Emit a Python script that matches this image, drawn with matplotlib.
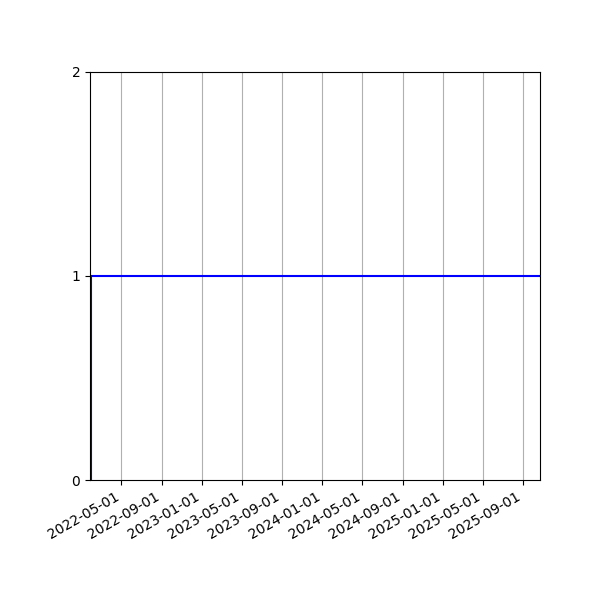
import matplotlib
matplotlib.use("Agg")
import matplotlib.pyplot as plt
import matplotlib.dates as mdates
import pandas as pd

dates = ["2022-01-26", "2022-01-29", "2025-10-22"]
values = [0, 1, 1]
tick_dates = ["2022-05-01", "2022-09-01", "2023-01-01", "2023-05-01", "2023-09-01",
              "2024-01-01", "2024-05-01", "2024-09-01", "2025-01-01", "2025-05-01",
              "2025-09-01"]

x = pd.to_datetime(dates)
fig = plt.figure(figsize=(6, 6), dpi=100)
ax = fig.add_axes([0.15, 0.2, 0.75, 0.68])
ax.step(x, values, where="post", color="blue", linewidth=1.5)
ax.set_xlim(x[0], x[-1])
ax.set_ylim(0, 2)
ax.set_yticks([0, 1, 2])
ax.set_xticks(pd.to_datetime(tick_dates))
ax.xaxis.set_major_formatter(mdates.DateFormatter("%Y-%m-%d"))
ax.grid(axis="x", color="#b0b0b0", linewidth=0.8)
for lab in ax.get_xticklabels():
    lab.set_rotation(30)
    lab.set_ha("right")
fig.savefig("out.png", dpi=100)
